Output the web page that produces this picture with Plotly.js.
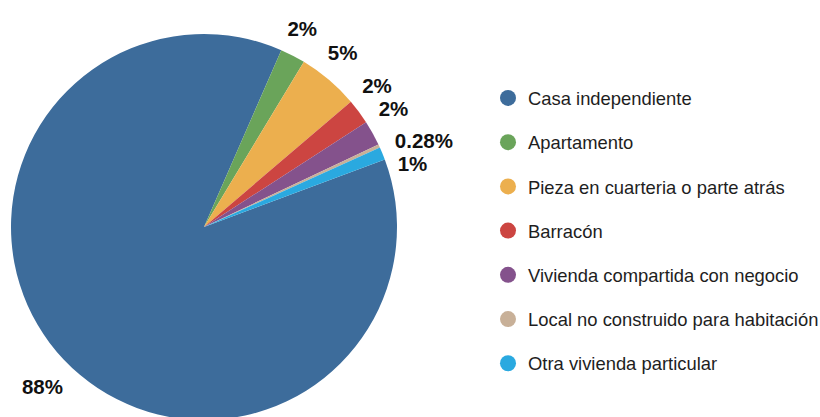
<!DOCTYPE html>
<html>
<head>
<meta charset="utf-8">
<script src="https://cdn.plot.ly/plotly-3.0.1.min.js"></script>
<style>
  html, body { margin: 0; padding: 0; overflow: hidden; background: #fff; }
  #chart { width: 900px; height: 454px; margin-left: -20px; }
  .textline { display: none; }
</style>
</head>
<body>
<div id="chart"></div>
<script>
const categories = [
  "Casa independiente",
  "Apartamento",
  "Pieza en cuarteria o parte atrás",
  "Barracón",
  "Vivienda compartida con negocio",
  "Local no construido para habitación",
  "Otra vivienda particular"
];
const shares = [87.2, 2.1, 5.1, 2.1, 2.1, 0.28, 1.06];
const shareLabels = ["88%", "2%", "5%", "2%", "2%", "0.28%", "1%"];
const colors = ["#3d6c9b", "#6aa45a", "#ecaf4e", "#cc4541", "#84528c", "#c8b098", "#2aa9e0"];
// the two thinnest slices carry their labels in a separate label layer
const thinSlices = [5, 6];

const W = 900, H = 454, OFF = 20;
const cx = 204 + OFF, cy = 227, r = 193;
const startAngle = 69.5;

const pie = {
  type: "pie",
  labels: categories,
  values: shares,
  textinfo: "none",
  marker: { colors: colors, line: { width: 0 } },
  sort: false,
  direction: "clockwise",
  rotation: startAngle,
  showlegend: false,
  hoverinfo: "label+percent",
  domain: { x: [(cx - r) / W, (cx + r) / W], y: [0, 1] }
};

function labelLayer(showIdx, rot, rLab) {
  return {
    type: "pie",
    labels: categories,
    values: shares,
    text: shareLabels,
    texttemplate: "<b>%{text}</b>",
    textposition: categories.map((c, i) => showIdx(i) ? "outside" : "none"),
    textfont: { family: "Liberation Sans, Arial, sans-serif", size: 20.5, color: "#111" },
    marker: { colors: categories.map(() => "rgba(0,0,0,0)"), line: { width: 0 } },
    sort: false,
    direction: "clockwise",
    rotation: rot,
    showlegend: false,
    hoverinfo: "skip",
    domain: { x: [(cx - rLab) / W, (cx + rLab) / W], y: [(H - cy - rLab) / H, (H - cy + rLab) / H] }
  };
}
const labelsMain = labelLayer(i => !thinSlices.includes(i), startAngle - 5, 204);
const labelsThin = labelLayer(i => thinSlices.includes(i), startAngle + 4, 198);

const legendTraces = categories.map((c, i) => ({
  type: "scatter",
  mode: "markers",
  x: [null],
  y: [null],
  name: c,
  legendgroup: "g" + i,
  marker: { color: colors[i], size: 16, symbol: "circle" },
  showlegend: true,
  hoverinfo: "skip"
}));

const layout = {
  width: W,
  height: H,
  margin: { l: 0, r: 0, t: 0, b: 0 },
  paper_bgcolor: "#fff",
  plot_bgcolor: "#fff",
  xaxis: { visible: false, domain: [0.99, 1] },
  yaxis: { visible: false, domain: [0.99, 1] },
  showlegend: true,
  legend: {
    x: (488 + OFF) / W,
    y: 1 - 79.5 / H,
    xanchor: "left",
    yanchor: "top",
    traceorder: "grouped",
    tracegroupgap: 17.3,
    font: { family: "Liberation Sans, Arial, sans-serif", size: 18.4, color: "#1e1e1e" },
    bgcolor: "rgba(0,0,0,0)"
  }
};

Plotly.newPlot("chart", [pie, labelsMain, labelsThin].concat(legendTraces), layout, { displayModeBar: false, staticPlot: true });
</script>
</body>
</html>
